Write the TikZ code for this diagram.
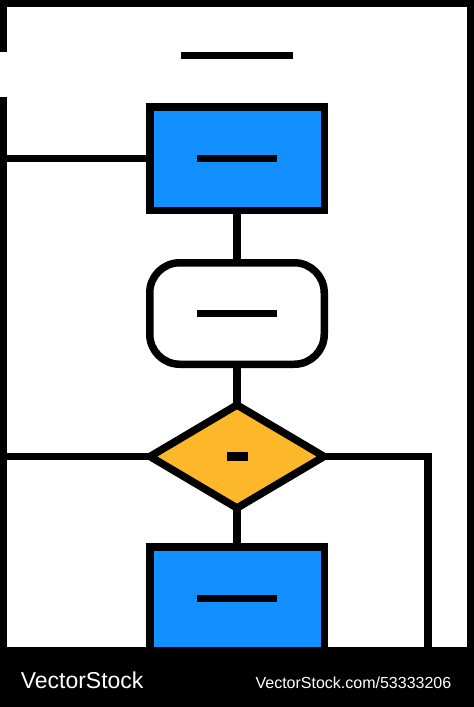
\documentclass[tikz,border=0pt]{standalone}
\usepackage{fontspec}
\setmainfont{Liberation Sans}
\usetikzlibrary{shapes.geometric}
\definecolor{flowblue}{RGB}{18,144,255}
\definecolor{flowyellow}{RGB}{253,184,42}

\begin{document}
\begin{tikzpicture}[x=1pt, y=-1pt, line width=7.5pt,
  proc/.style={draw, fill=flowblue, minimum width=174.5pt, minimum height=103.5pt, inner sep=0pt},
  term/.style={draw, fill=white, rounded corners=30pt, minimum width=174.5pt, minimum height=101.5pt, inner sep=0pt},
  dec/.style={draw, diamond, fill=flowyellow, minimum width=174pt, minimum height=103pt, inner sep=0pt, outer sep=0pt},
  bar/.style={line width=7.5pt, line cap=butt}]
  \useasboundingbox (0,0) rectangle (474,707);

  % page frame, left side open at the top
  \draw (3.5,52) -- (3.5,3.5) -- (470.5,3.5) -- (470.5,647);
  \draw (3.5,97) -- (3.5,647);
  \coordinate (lb) at (3.5,400);
  \coordinate (rc) at (428,650);

  \coordinate (title) at (237,55.5);
  \draw[bar] ([xshift=-56pt]title) -- ([xshift=56pt]title);

  \node[proc] (box1) at (237,158.5) {};
  \node[term] (round) at (237,313.5) {};
  \node[dec] (cond) at (237,456.5) {};
  \node[proc] (box2) at (237,598.5) {};

  \draw[bar] ([xshift=-40pt]box1.center) -- ([xshift=40pt]box1.center);
  \draw[bar] ([xshift=-40pt]round.center) -- ([xshift=40pt]round.center);
  \draw[bar, line width=9pt] ([xshift=-10.5pt]cond.center) -- ([xshift=10.5pt]cond.center);
  \draw[bar] ([xshift=-40pt]box2.center) -- ([xshift=40pt]box2.center);

  \path[draw]
  (box1.south) -- (round.north)
  (round.south) -- (cond.north)
  (cond.south) -- (box2.north)
  (box1.west) -- (box1.west -| lb)
  (cond.west) -- (cond.west -| lb)
  (cond.east) -| (rc)
  ;

  % bottom band
  \fill (0,647) rectangle (474,707);
  \node[anchor=base west, inner sep=0pt, text=white, font=\fontsize{23}{23}\selectfont] (brand) at (17,688) {VectorStock};
  \node[anchor=base east, inner sep=0pt, text=white, font=\fontsize{16}{16}\selectfont] (url) at (455,688) {VectorStock.com/53333206};
\end{tikzpicture}
\end{document}
